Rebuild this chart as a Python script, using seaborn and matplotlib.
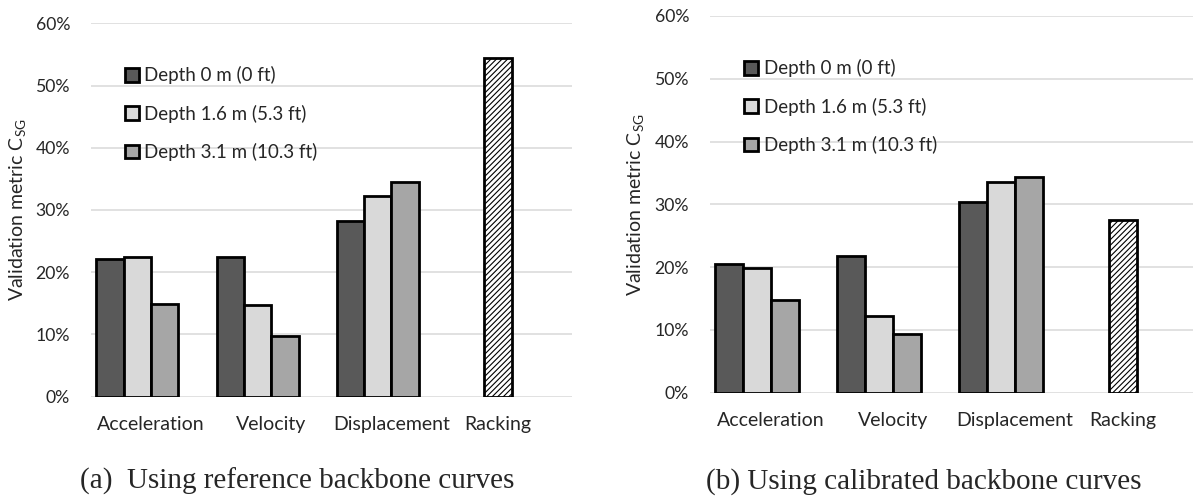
import matplotlib
matplotlib.use("Agg")
import matplotlib.pyplot as plt
from matplotlib.patches import Patch
from matplotlib.ticker import PercentFormatter
import seaborn as sns
import pandas as pd

# ---------------- data ----------------
categories = ["Acceleration", "Velocity", "Displacement"]
rack_category = "Racking"
depth_labels = ["Depth 0 m (0 ft)", "Depth 1.6 m (5.3 ft)", "Depth 3.1 m (10.3 ft)"]

# (a) reference backbone curves, values in %
a_depth0 = [22.2, 22.5, 28.3]
a_depth16 = [22.5, 14.8, 32.2]
a_depth31 = [14.9, 9.8, 34.5]
a_racking = 54.5

# (b) calibrated backbone curves, values in %
b_depth0 = [20.5, 21.8, 30.4]
b_depth16 = [19.8, 12.2, 33.5]
b_depth31 = [14.8, 9.4, 34.3]
b_racking = 27.5

y_ticks = [0, 10, 20, 30, 40, 50, 60]
captions = ["(a)  Using reference backbone curves", "(b) Using calibrated backbone curves"]
y_label = "Validation metric C$_{\\mathregular{SG}}$"

depth_colors = ["#595959", "#D9D9D9", "#A6A6A6"]

# ---------------- style ----------------
sns.set_theme(style="white")
plt.rcParams["font.family"] = ["Lato", "DejaVu Sans"]
plt.rcParams["hatch.linewidth"] = 0.8
plt.rcParams["hatch.color"] = "black"

W, H = 1193, 500
fig = plt.figure(figsize=(W / 100, H / 100), dpi=100)

order = categories + [rack_category]
GROUP_W = 0.91


def px_axes(left, top, right, bottom):
    return fig.add_axes([left / W, (H - bottom) / H, (right - left) / W, (bottom - top) / H])


def draw_panel(ax, d0, d16, d31, rack):
    rows = []
    for i, cat in enumerate(categories):
        for lab, vals in zip(depth_labels, [d0, d16, d31]):
            rows.append({"category": cat, "series": lab, "value": vals[i]})
    depth_df = pd.DataFrame(rows)
    pal = dict(zip(depth_labels, depth_colors))
    pal["_pad"] = "white"
    sns.barplot(data=depth_df, x="category", y="value", hue="series",
                order=order, hue_order=depth_labels + ["_pad"], palette=pal,
                width=GROUP_W, dodge=True, saturation=1, edgecolor="black", linewidth=2,
                errorbar=None, legend=False, ax=ax, zorder=3)

    rack_df = pd.DataFrame({"category": [rack_category], "series": ["Racking"], "value": [rack]})
    rpal = {"_p0": "white", "Racking": "white", "_p2": "white", "_p3": "white"}
    sns.barplot(data=rack_df, x="category", y="value", hue="series",
                order=order, hue_order=["_p0", "Racking", "_p2", "_p3"], palette=rpal,
                width=GROUP_W, dodge=True, saturation=1, edgecolor="black", linewidth=2,
                hatch="//////", errorbar=None, legend=False, ax=ax, zorder=3)

    ax.set_xlim(-0.5, 3.5)
    ax.set_ylim(0, 60)
    ax.set_yticks(y_ticks)
    ax.yaxis.set_major_formatter(PercentFormatter(xmax=100, decimals=0))
    ax.set_xticks([0, 1, 2, 3 - GROUP_W / 8])
    ax.set_xticklabels(order)
    ax.set_xlabel("")
    ax.set_ylabel(y_label, fontsize=14, color="#262626")
    ax.yaxis.set_label_coords(-0.129, 0.5)
    ax.tick_params(axis="y", length=0, pad=15, labelsize=12.7, labelcolor="#262626")
    ax.tick_params(axis="x", length=0, pad=14, labelsize=14, labelcolor="#262626")
    for s in ax.spines.values():
        s.set_visible(False)
    ax.yaxis.grid(True, color="#D9D9D9", linewidth=1.1)
    ax.xaxis.grid(False)
    ax.set_axisbelow(True)

    handles = [Patch(facecolor=c, edgecolor="black", linewidth=2) for c in depth_colors]
    ax.legend(handles, depth_labels, loc="upper left", bbox_to_anchor=(0.0697, 0.885),
              frameon=False, fontsize=13.5, handlelength=0.75, handleheight=0.75,
              handletextpad=0.3, labelspacing=1.08, borderpad=0, borderaxespad=0,
              labelcolor="#262626")


ax1 = px_axes(91, 23.3, 571.7, 396.7)
draw_panel(ax1, a_depth0, a_depth16, a_depth31, a_racking)

ax2 = px_axes(710, 16, 1198, 392.7)
draw_panel(ax2, b_depth0, b_depth16, b_depth31, b_racking)

fig.text(80 / W, 0.022, captions[0], fontsize=21, family="Liberation Serif", ha="left", va="baseline")
fig.text(706 / W, 0.022, captions[1], fontsize=21, family="Liberation Serif", ha="left", va="baseline")

fig.savefig("out.png", dpi=100)
